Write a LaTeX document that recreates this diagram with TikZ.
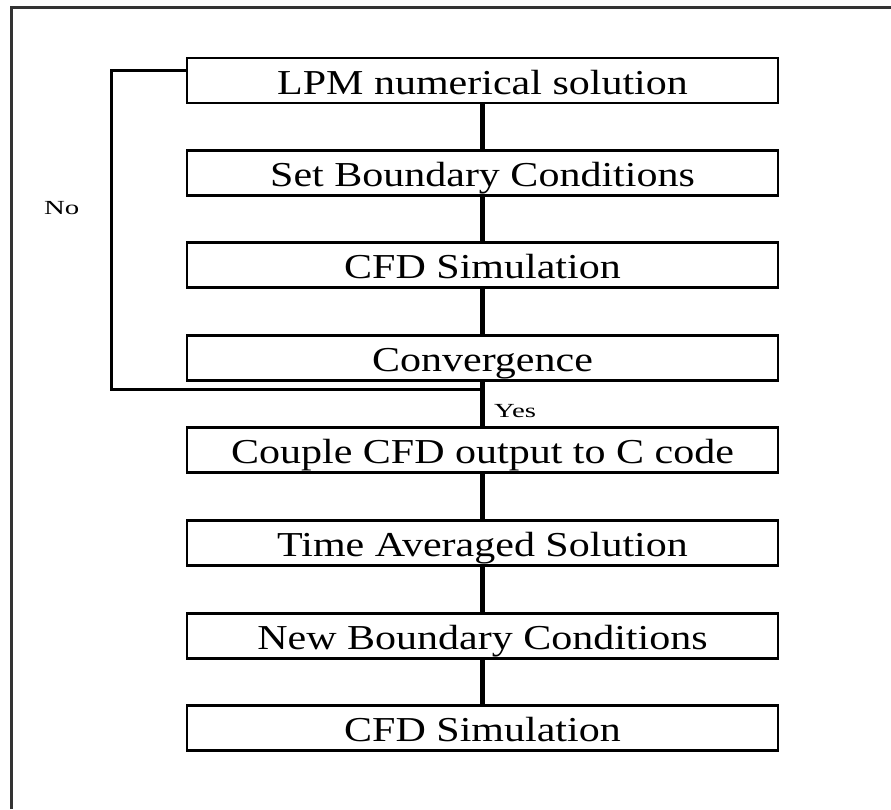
\documentclass[tikz,border=0pt]{standalone}
\usepackage{fontspec}
\setmainfont[FakeStretch=1.2]{Liberation Serif}
\begin{document}
\begin{tikzpicture}[x=1pt,y=-1pt,
  stepbox/.style={draw=black,line width=2.6pt,minimum width=591pt,minimum height=45pt,
    inner sep=0pt,fill=white,text height=27pt,text depth=0pt,
    font=\fontsize{35}{38}\selectfont},
  link/.style={line width=4.5pt},
  loopline/.style={line width=3pt},
  lbl/.style={inner sep=0pt,font=\fontsize{20}{22}\selectfont}]
\useasboundingbox (0,0) rectangle (891,809);
% outer frame (left and top edges)
\draw[line width=3pt,draw=black!80] (11,809) -- (11,7) -- (891,7);

% process steps
\node[stepbox] (b1) at (482.5,80.5)  {LPM numerical solution};
\node[stepbox] (b2) at (482.5,173)   {Set Boundary Conditions};
\node[stepbox] (b3) at (482.5,265)   {CFD Simulation};
\node[stepbox] (b4) at (482.5,358)   {Convergence};
\node[stepbox] (b5) at (482.5,450)   {Couple CFD output to C code};
\node[stepbox] (b6) at (482.5,543)   {Time Averaged Solution};
\node[stepbox] (b7) at (482.5,636)   {New Boundary Conditions};
\node[stepbox] (b8) at (482.5,728)   {CFD Simulation};

% straight links
\draw[link] (b1) -- (b2);
\draw[link] (b2) -- (b3);
\draw[link] (b3) -- (b4);
\draw[link] (b4) -- (b5);
\draw[link] (b5) -- (b6);
\draw[link] (b6) -- (b7);
\draw[link] (b7) -- (b8);

% feedback loop when not converged
\coordinate (join) at (482.5,389);
\draw[loopline] ([yshift=10.5pt]b1.west) -- ++(-74,0) |- (join);

% branch labels
\node[lbl,anchor=west] (no)  at (44,208) {\scalebox{1.2}[1]{No}};
\node[lbl,anchor=west] (yes) at (494,411) {\scalebox{1.2}[1]{Yes}};
\end{tikzpicture}
\end{document}
